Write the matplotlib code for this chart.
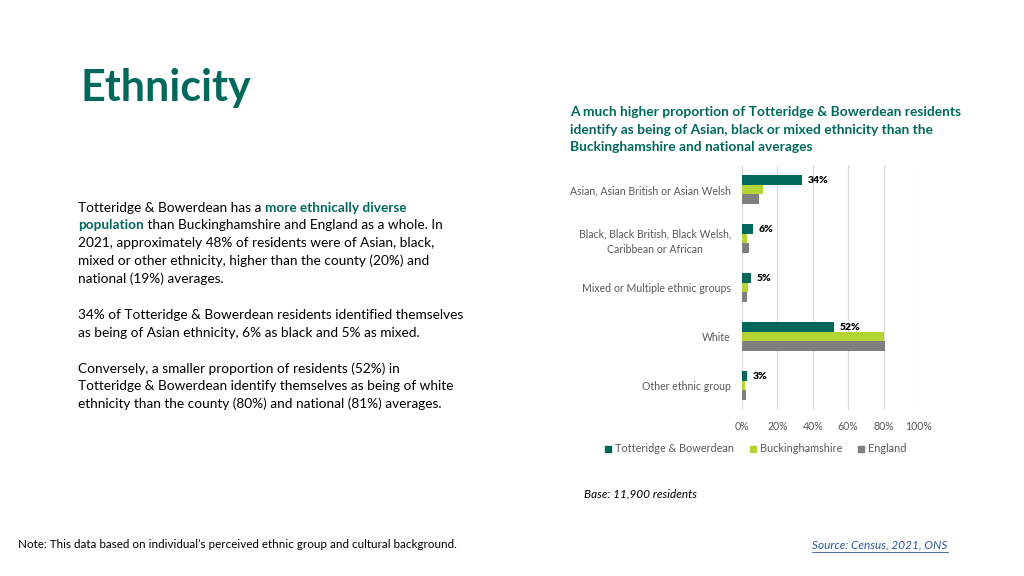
import matplotlib.pyplot as plt
from matplotlib.lines import Line2D
import numpy as np

plt.rcParams['font.family'] = ['Lato', 'DejaVu Sans']

categories = ['Asian, Asian British or Asian Welsh',
              'Black, Black British, Black Welsh,\nCaribbean or African',
              'Mixed or Multiple ethnic groups',
              'White',
              'Other ethnic group']
series_names = ['Totteridge & Bowerdean', 'Buckinghamshire', 'England']
totteridge = [34, 6, 5, 52, 3]
bucks = [12, 2.6, 3.6, 80, 1.7]
england = [9.6, 4.1, 2.9, 81, 2.2]
ticks = [0, 20, 40, 60, 80, 100]

teal = '#00695C'
lime = '#B4D334'
grey = '#7F7F7F'
label_grey = '#595959'

W, H = 1024, 576
fig = plt.figure(figsize=(10.24, 5.76), dpi=100)
renderer = fig.canvas.get_renderer()

# headline
fig.text(80 / W, 1 - 101 / H, 'Ethnicity', fontsize=31, fontweight='bold',
         color=teal, va='baseline')

# chart title, one line at a time
title_lines = ['A much higher proportion of Totteridge & Bowerdean residents',
               'identify as being of Asian, black or mixed ethnicity than the',
               'Buckinghamshire and national averages']
for i, s in enumerate(title_lines):
    fig.text(570 / W, 1 - (115.5 + 18 * i) / H, s, fontsize=9.9, fontweight='bold',
             color=teal, va='baseline')

# body text, each line built from pieces so the highlight can be coloured
body_size = 9.85
lines = [
    [('Totteridge & Bowerdean has a ', False), ('more ethnically diverse', True)],
    [('population', True), (' than Buckinghamshire and England as a whole. In', False)],
    [('2021, approximately 48% of residents were of Asian, black,', False)],
    [('mixed or other ethnicity, higher than the county (20%) and', False)],
    [('national (19%) averages.', False)],
    None,
    [('34% of Totteridge & Bowerdean residents identified themselves', False)],
    [('as being of Asian ethnicity, 6% as black and 5% as mixed.', False)],
    None,
    [('Conversely, a smaller proportion of residents (52%) in', False)],
    [('Totteridge & Bowerdean identify themselves as being of white', False)],
    [('ethnicity than the county (80%) and national (81%) averages.', False)],
]
line_h = 17.9
y = 211.5
for ln in lines:
    if ln is None:
        y += line_h
        continue
    x = 78
    for txt, bold in ln:
        t = fig.text(x / W, 1 - y / H, txt, fontsize=body_size,
                     color=teal if bold else 'black',
                     fontweight='bold' if bold else 'normal', va='baseline')
        x += t.get_window_extent(renderer).width
    y += line_h

# bar chart
ax = fig.add_axes([742 / W, 1 - 410 / H, 177 / W, 245 / H])
pos = np.arange(len(categories))
h = 0.2
ax.barh(pos - h, totteridge, height=h, color=teal, zorder=3)
ax.barh(pos, bucks, height=h, color=lime, zorder=3)
ax.barh(pos + h, england, height=h, color=grey, zorder=3)
for p, v in zip(pos, totteridge):
    ax.text(v + 3.3, p - h + 0.02, f'{v}%', va='center', ha='left', fontsize=7.5,
            fontweight='heavy', color='black')
ax.set_xlim(0, 100)
ax.set_ylim(len(categories) - 0.5, -0.5)
ax.set_xticks(ticks)
ax.set_xticklabels([f'{v}%' for v in ticks], fontsize=7.6, color=label_grey)
ax.set_yticks(pos)
ax.set_yticklabels(categories, fontsize=7.6, color=label_grey, linespacing=1.45,
                   ha='right', multialignment='center')
ax.tick_params(axis='y', length=0, pad=8)
ax.tick_params(axis='x', length=0, pad=8)
ax.grid(axis='x', color='#D9D9D9', linewidth=0.8, zorder=0)
for s in ax.spines.values():
    s.set_visible(False)

hs = [Line2D([], [], marker='s', linestyle='', color=c, markersize=4.5)
      for c in (teal, lime, grey)]
fig.legend(hs, series_names, loc='center', bbox_to_anchor=(755 / W, 1 - 449 / H),
           ncol=3, frameon=False, fontsize=7.8, labelcolor=label_grey,
           handletextpad=0.2, columnspacing=1.4, handlelength=0.8)

fig.text(584 / W, 1 - 494 / H, 'Base: 11,900 residents', fontsize=8.5,
         style='italic', va='center')
fig.text(18 / W, 1 - 545 / H,
         'Note: This data based on individual\u2019s perceived ethnic group and cultural background.',
         fontsize=8.4, va='center')
fig.text(812 / W, 1 - 545 / H, 'Source: Census, 2021, ONS', fontsize=8.5,
         style='italic', color='#2E5597', va='center')
fig.add_artist(Line2D([812 / W, 948 / W], [1 - 552 / H, 1 - 552 / H],
                      color='#2E5597', linewidth=0.6, transform=fig.transFigure))

fig.savefig('out.png', dpi=100)
